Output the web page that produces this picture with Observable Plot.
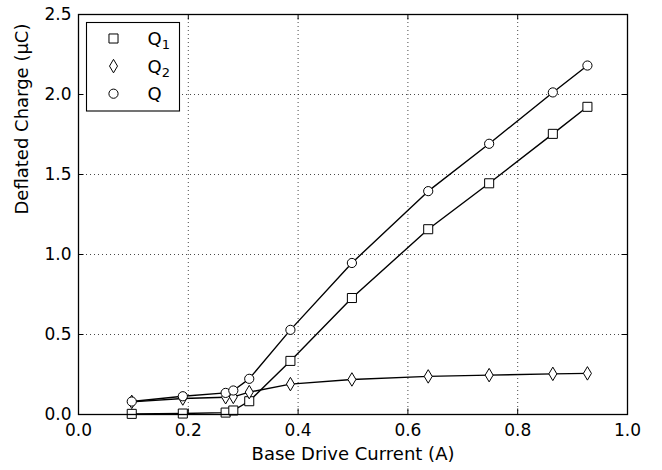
<!DOCTYPE html>
<html>
<head>
<meta charset="utf-8">
<script src="https://cdn.jsdelivr.net/npm/d3@7"></script>
<script src="https://cdn.jsdelivr.net/npm/@observablehq/plot@0.6"></script>
<style>
  html, body { margin: 0; padding: 0; background: #fff; }
  #chart { width: 662px; height: 470px; }
</style>
</head>
<body>
<div id="chart"></div>
<script>
// ---- data ----
const baseCurrent = [0.097, 0.19, 0.268, 0.282, 0.311, 0.386, 0.498, 0.637, 0.748, 0.864, 0.927];
const q1Values    = [0.004, 0.006, 0.012, 0.025, 0.083, 0.335, 0.728, 1.158, 1.445, 1.754, 1.923];
const q2Values    = [0.079, 0.100, 0.108, 0.110, 0.140, 0.190, 0.219, 0.238, 0.246, 0.254, 0.257];
const qValues     = [0.081, 0.114, 0.135, 0.150, 0.223, 0.529, 0.947, 1.396, 1.692, 2.013, 2.181];
const seriesNames = ["Q1", "Q2", "Q"];
const xTicks = [0.0, 0.2, 0.4, 0.6, 0.8, 1.0];
const yTicks = [0.0, 0.5, 1.0, 1.5, 2.0, 2.5];
const xLabel = "Base Drive Current (A)";
const yLabel = "Deflated Charge (\u03bcC)";

// ---- build tables ----
const seriesValues = [q1Values, q2Values, qValues];
const rows = seriesNames.map((name, s) =>
  baseCurrent.map((x, i) => ({series: name, x, y: seriesValues[s][i]})));

// thin diamond like matplotlib 'd'
const thinDiamond = {
  draw(ctx, size) {
    const r = Math.sqrt(size / Math.PI);
    const hw = 0.8 * r, hh = 1.35 * r;
    ctx.moveTo(0, -hh); ctx.lineTo(hw, 0); ctx.lineTo(0, hh); ctx.lineTo(-hw, 0); ctx.closePath();
  }
};
const symbols = [{sym: "square", r: 5.1}, {sym: thinDiamond, r: 5}, {sym: "circle", r: 4.6}];

const W = 662, H = 470;
const mL = 78, mR = 35, mT = 14, mB = 56;
const fw = W - mL - mR, fh = H - mT - mB;
const tickLen = 5.5;

const marks = [
  Plot.gridX(xTicks, {stroke: "#000", strokeOpacity: 0.9, strokeWidth: 0.8, strokeDasharray: "1,3"}),
  Plot.gridY(yTicks, {stroke: "#000", strokeOpacity: 0.9, strokeWidth: 0.8, strokeDasharray: "1,3"}),
];
rows.forEach((data, s) => {
  marks.push(Plot.line(data, {x: "x", y: "y", stroke: "#000", strokeWidth: 1.4}));
  marks.push(Plot.dot(data, {x: "x", y: "y", symbol: symbols[s].sym, r: symbols[s].r,
    fill: "#fff", stroke: "#000", strokeWidth: 1}));
});
marks.push(
  Plot.tickX(xTicks, {x: d => d, insetTop: fh - tickLen, stroke: "#000", strokeWidth: 1}),
  Plot.tickX(xTicks, {x: d => d, insetBottom: fh - tickLen, stroke: "#000", strokeWidth: 1}),
  Plot.tickY(yTicks, {y: d => d, insetRight: fw - tickLen, stroke: "#000", strokeWidth: 1}),
  Plot.tickY(yTicks, {y: d => d, insetLeft: fw - tickLen, stroke: "#000", strokeWidth: 1}),
  Plot.frame({stroke: "#000", strokeWidth: 1.3}),
  Plot.axisX(xTicks, {tickFormat: d3.format(".1f"), tickSize: 0, tickPadding: 9, label: null}),
  Plot.axisY(yTicks, {tickFormat: d3.format(".1f"), tickSize: 0, tickPadding: 7, label: null}),
  Plot.text([xLabel], {frameAnchor: "bottom", dy: 40, lineAnchor: "middle", text: d => d, fontSize: 18}),
  Plot.text([yLabel], {frameAnchor: "left", dx: -56, rotate: -90, lineAnchor: "middle", text: d => d, fontSize: 18})
);

const chart = Plot.plot({
  width: W, height: H,
  marginLeft: mL, marginRight: mR, marginTop: mT, marginBottom: mB,
  x: {domain: [0, 1]},
  y: {domain: [0, 2.5]},
  style: {fontFamily: "'DejaVu Sans', sans-serif", fontSize: "17px", background: "#fff", color: "#000", overflow: "visible"},
  marks
});

// ---- legend (inside plot, upper left) ----
const svg = d3.select(chart);
const lg = svg.append("g").attr("font-family", "'DejaVu Sans', sans-serif").attr("text-anchor", "start");
lg.append("rect").attr("x", 86.5).attr("y", 22.5).attr("width", 93).attr("height", 88.5)
  .attr("fill", "#fff").attr("stroke", "#000").attr("stroke-width", 1.1);
seriesNames.forEach((name, s) => {
  const cy = 38.5 + s * 27.6;
  const sym = symbols[s];
  if (sym.sym === "circle") {
    lg.append("circle").attr("cx", 113.5).attr("cy", cy).attr("r", sym.r)
      .attr("fill", "#fff").attr("stroke", "#000");
  } else {
    const type = sym.sym === "square" ? d3.symbolSquare : sym.sym;
    lg.append("path").attr("transform", `translate(113.5,${cy})`)
      .attr("d", d3.symbol(type, sym.r * sym.r * Math.PI)())
      .attr("fill", "#fff").attr("stroke", "#000");
  }
  const t = lg.append("text").attr("x", 147.5).attr("y", cy + 6.5).attr("font-size", 18)
    .attr("fill", "#000").attr("text-anchor", "start");
  t.append("tspan").text(name[0]);
  if (name.length > 1) {
    t.append("tspan").attr("font-size", 13).attr("dy", 4).text(name.slice(1));
  }
});

document.getElementById("chart").appendChild(chart);
</script>
</body>
</html>
